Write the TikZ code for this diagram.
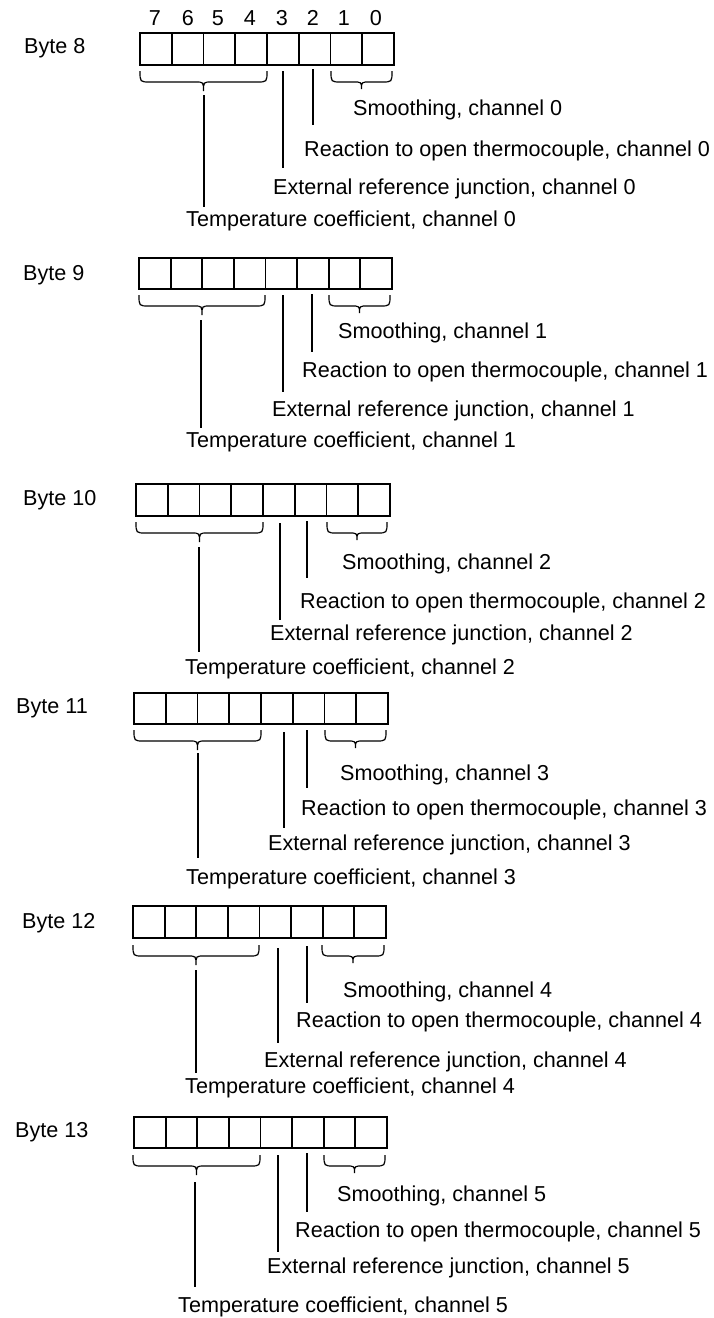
\documentclass[tikz,border=0pt]{standalone}
\usepackage{fontspec}
\setmainfont{Liberation Sans}
\tikzset{
  boxline/.style={line width=1.8pt, line join=miter},
  braceline/.style={line width=1.2pt},
  ptr/.style={line width=2.8pt},
  lbl/.style={font=\fontsize{21.6pt}{26pt}\selectfont, inner sep=0pt, anchor=base west},
  bitnum/.style={font=\fontsize{21.6pt}{26pt}\selectfont, inner sep=0pt, anchor=base}
}
% #1 name, #2 x1, #3 y1, #4 x2, #5 y2
\newcommand\regbox[5]{%
  \coordinate (#1nw) at (#2,#3);
  \coordinate (#1se) at (#4,#5);
  \draw[boxline] (#1nw) rectangle (#1se);
  \foreach \i in {1,...,7}{
    \draw[boxline] ({#2+\i*(#4-#2)/8},#3) -- ({#2+\i*(#4-#2)/8},#5);
  }
}
% #1 x1, #2 x2, #3 ytop, #4 ybot, #5 ytip
\newcommand\dbrace[5]{%
  \draw[braceline] (#1,#3) .. controls (#1,#4) .. ({#1+10},#4)
    -- ({(#1+#2)/2-8},#4) .. controls ({(#1+#2)/2},#4) .. ({(#1+#2)/2},#5)
    .. controls ({(#1+#2)/2},#4) .. ({(#1+#2)/2+8},#4)
    -- ({#2-10},#4) .. controls (#2,#4) .. (#2,#3);
}
% #1 name, #2 x, #3 y1, #4 y2
\newcommand\pointer[4]{%
  \coordinate (#1a) at (#2,#3);
  \coordinate (#1b) at (#2,#4);
  \draw[ptr] (#1a) -- (#1b);
}
\begin{document}
\begin{tikzpicture}[x=1pt,y=-1pt]
\useasboundingbox[fill=white] (0,0) rectangle (714,1318);

% bit numbers
\node[bitnum] (n7) at (155,25.5) {7};
\node[bitnum] (n6) at (188,25.5) {6};
\node[bitnum] (n5) at (218,25.5) {5};
\node[bitnum] (n4) at (250,25.5) {4};
\node[bitnum] (n3) at (282,25.5) {3};
\node[bitnum] (n2) at (313,25.5) {2};
\node[bitnum] (n1) at (344,25.5) {1};
\node[bitnum] (n0) at (376,25.5) {0};

% ---------- Byte 8 ----------
\node[lbl] (B8) at (24,53) {Byte 8};
\regbox{r8}{140}{33}{394}{65}
\dbrace{140}{267}{71}{82}{91}
\dbrace{331}{392}{71}{82}{89}
\pointer{t8}{204}{95}{207}
\pointer{e8}{283}{71}{168}
\pointer{o8}{313}{69}{125}
\node[lbl] (S8) at (353,115.5) {Smoothing, channel 0};
\node[lbl] (R8) at (304,156.5) {Reaction to open thermocouple, channel 0};
\node[lbl] (E8) at (273,194.5) {External reference junction, channel 0};
\node[lbl] (T8) at (186,226.5) {Temperature coefficient, channel 0};

% ---------- Byte 9 ----------
\node[lbl] (B9) at (23,280) {Byte 9};
\regbox{r9}{139}{258}{392}{289}
\dbrace{139}{265}{295}{306}{315}
\dbrace{329}{390}{295}{306}{313}
\pointer{t9}{201}{320}{428}
\pointer{e9}{283}{295}{392}
\pointer{o9}{312}{294}{352}
\node[lbl] (S9) at (338,338.5) {Smoothing, channel 1};
\node[lbl] (R9) at (302,377.5) {Reaction to open thermocouple, channel 1};
\node[lbl] (E9) at (272,416.5) {External reference junction, channel 1};
\node[lbl] (T9) at (186,447.5) {Temperature coefficient, channel 1};

% ---------- Byte 10 ----------
\node[lbl] (B10) at (23,505.5) {Byte 10};
\regbox{r10}{136}{484}{390}{516}
\dbrace{136}{263}{522}{533}{542}
\dbrace{327}{387}{522}{533}{540}
\pointer{t10}{199}{547}{652}
\pointer{e10}{280}{523}{620}
\pointer{o10}{307}{521}{578}
\node[lbl] (S10) at (342,569.5) {Smoothing, channel 2};
\node[lbl] (R10) at (300,608.5) {Reaction to open thermocouple, channel 2};
\node[lbl] (E10) at (270,640.5) {External reference junction, channel 2};
\node[lbl] (T10) at (185,674.5) {Temperature coefficient, channel 2};

% ---------- Byte 11 ----------
\node[lbl] (B11) at (16,713.5) {Byte 11};
\regbox{r11}{134}{693}{388}{724}
\dbrace{134}{261}{730}{741}{750}
\dbrace{325}{386}{730}{741}{748}
\pointer{t11}{198}{753}{858}
\pointer{e11}{284}{732}{828}
\pointer{o11}{307}{730}{788}
\node[lbl] (S11) at (340,780.5) {Smoothing, channel 3};
\node[lbl] (R11) at (301,815.5) {Reaction to open thermocouple, channel 3};
\node[lbl] (E11) at (268,850.5) {External reference junction, channel 3};
\node[lbl] (T11) at (186,884.5) {Temperature coefficient, channel 3};

% ---------- Byte 12 ----------
\node[lbl] (B12) at (22,928.5) {Byte 12};
\regbox{r12}{133}{906}{386}{938}
\dbrace{133}{259}{945}{956}{965}
\dbrace{322}{384}{945}{956}{963}
\pointer{t12}{196}{970}{1073}
\pointer{e12}{278}{948}{1043}
\pointer{o12}{307}{946}{1003}
\node[lbl] (S12) at (343,997.5) {Smoothing, channel 4};
\node[lbl] (R12) at (296,1027.5) {Reaction to open thermocouple, channel 4};
\node[lbl] (E12) at (264,1067.5) {External reference junction, channel 4};
\node[lbl] (T12) at (185,1093.5) {Temperature coefficient, channel 4};

% ---------- Byte 13 ----------
\node[lbl] (B13) at (15,1137.5) {Byte 13};
\regbox{r13}{134}{1117}{387}{1148}
\dbrace{133}{260}{1155}{1166}{1175}
\dbrace{324}{385}{1155}{1166}{1173}
\pointer{t13}{195}{1182}{1287}
\pointer{e13}{278}{1155}{1252}
\pointer{o13}{307}{1153}{1212}
\node[lbl] (S13) at (337,1201.5) {Smoothing, channel 5};
\node[lbl] (R13) at (295,1237.5) {Reaction to open thermocouple, channel 5};
\node[lbl] (E13) at (267,1273.5) {External reference junction, channel 5};
\node[lbl] (T13) at (178,1312) {Temperature coefficient, channel 5};
\end{tikzpicture}
\end{document}
